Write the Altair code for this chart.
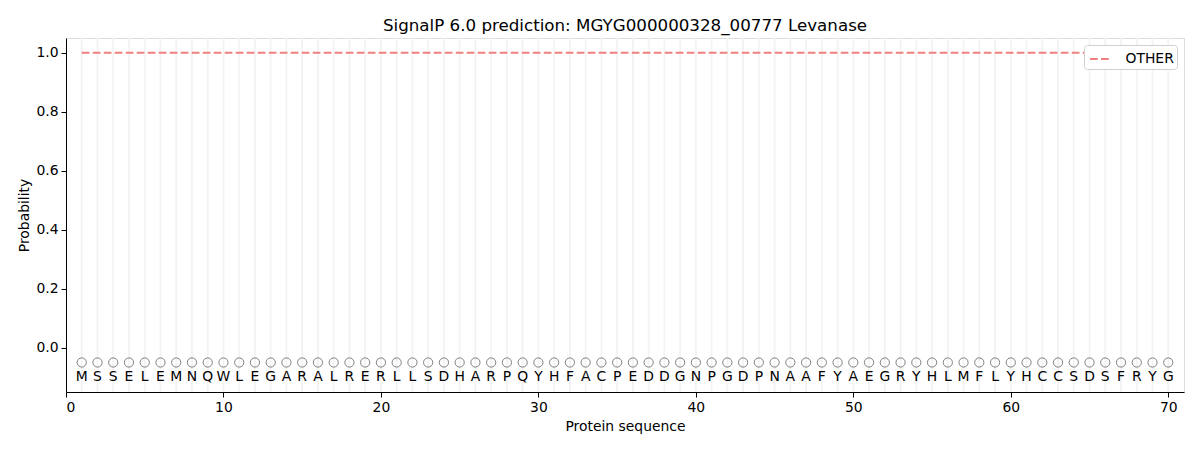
import altair as alt
import pandas as pd

residues = list("MSSELEMNQWLEGARALRERLLSDHARPQYHFACPEDDGNPGDPNAAFYAEGRYHLMFLYHCCSDSFRYG")
positions = list(range(1, len(residues) + 1))
other_prob = [1.0] * len(residues)
marker_y = [-0.05] * len(residues)
letter_y = [-0.10] * len(residues)

FONT = "DejaVu Sans"

df = pd.DataFrame({
    "pos": positions,
    "aa": residues,
    "other": other_prob,
    "marker_y": marker_y,
    "letter_y": letter_y,
    "label": ["OTHER"] * len(residues),
})

xscale = alt.Scale(domain=[0, 71], nice=False, zero=False)
yscale = alt.Scale(domain=[-0.15, 1.05], nice=False, zero=False)

base = alt.Chart(df)

grid = base.mark_rule(color="#f3f3f3", strokeWidth=1.8).encode(
    x=alt.X("pos:Q", scale=xscale,
            axis=alt.Axis(values=[0, 10, 20, 30, 40, 50, 60, 70], title="Protein sequence",
                          grid=False, tickSize=5, labelPadding=3, titlePadding=6,
                          labelFontSize=13.9, titleFontSize=13.9, labelColor="black",
                          titleColor="black", titleFontWeight="normal",
                          domainColor="black", tickColor="black", labelFont=FONT, titleFont=FONT))
)

line = base.mark_line(strokeDash=[7.7, 3.3], strokeWidth=2.1).encode(
    x=alt.X("pos:Q", scale=xscale),
    y=alt.Y("other:Q", scale=yscale,
            axis=alt.Axis(values=[0, 0.2, 0.4, 0.6, 0.8, 1.0], format=".1f", title="Probability",
                          grid=False, tickSize=5, labelPadding=3, titlePadding=4,
                          labelFontSize=13.9, titleFontSize=13.9, labelColor="black",
                          titleColor="black", titleFontWeight="normal",
                          domainColor="black", tickColor="black", labelFont=FONT, titleFont=FONT)),
    color=alt.Color("label:N", scale=alt.Scale(domain=["OTHER"], range=["#f08080"]),
                    legend=alt.Legend(title=None, orient="top-right", offset=7,
                                      symbolType="stroke", symbolDash=[7.7, 3.3],
                                      symbolStrokeWidth=2.1, symbolSize=400, symbolOffset=2,
                                      labelFontSize=13.9, labelFont=FONT, labelColor="black",
                                      fillColor="white", strokeColor="#d0d0d0",
                                      cornerRadius=3, padding=2.5, labelOffset=14)),
)

points = base.mark_point(shape="circle", filled=False, color="#7f7f7f", size=85, strokeWidth=1,
                         opacity=1).encode(
    x=alt.X("pos:Q", scale=xscale),
    y=alt.Y("marker_y:Q", scale=yscale),
)

letters = base.mark_text(fontSize=13.9, font=FONT, color="black").encode(
    x=alt.X("pos:Q", scale=xscale),
    y=alt.Y("letter_y:Q", scale=yscale),
    text="aa:N",
)

chart = alt.layer(grid, line, points, letters).properties(
    width=1118,
    height=354,
    title=alt.TitleParams("SignalP 6.0 prediction: MGYG000000328_00777 Levanase",
                          fontSize=16.7, font=FONT, fontWeight="normal", color="black",
                          offset=2, anchor="middle"),
    autosize=alt.AutoSizeParams(type="none"),
    padding={"left": 58, "top": 30, "right": 8, "bottom": 50},
).configure_view(stroke="black", strokeWidth=1.1).configure(background="white")

chart.save("out.html", embed_options={"renderer": "svg", "actions": False})
